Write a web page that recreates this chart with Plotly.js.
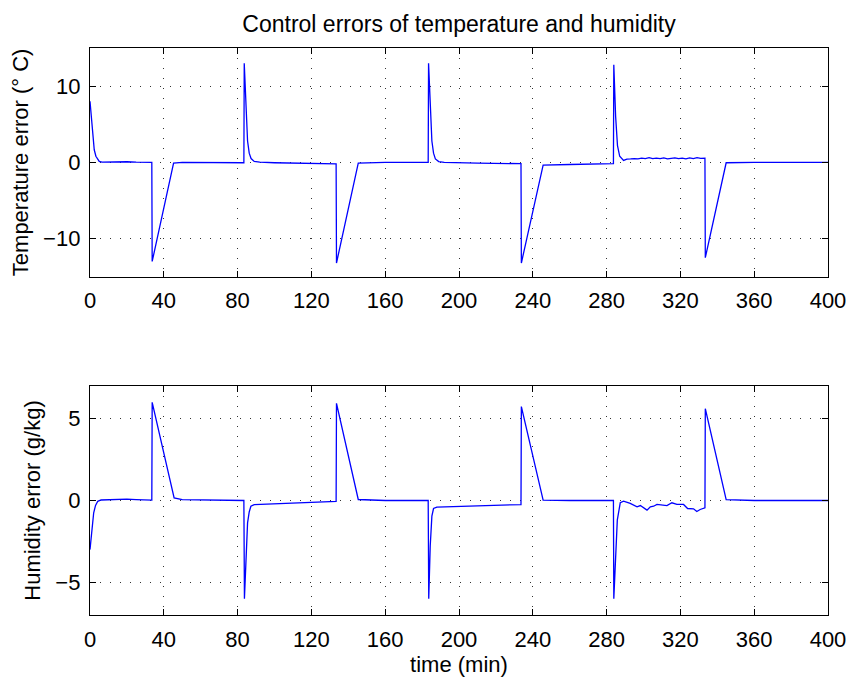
<!DOCTYPE html>
<html>
<head>
<meta charset="utf-8">
<script src="https://cdn.plot.ly/plotly-3.0.1.min.js"></script>
<style>html,body{margin:0;padding:0;background:#fff;}#chart{width:850px;height:677px;}</style>
</head>
<body>
<div id="chart"></div>
<script>
// Temperature control error (°C) vs time (min)
const tempTime = [0, 1.4, 2.3, 3.2, 4.2, 5.0, 6.5, 10, 15, 20, 25, 30, 33.5,
  33.7, 45.3, 50, 60, 70, 83.4,
  83.6, 84.6, 85.4, 86.3, 87.3, 89, 92, 100, 115, 133.4,
  133.6, 145.4, 160, 183.3,
  183.5, 184.5, 185.3, 186.2, 187.2, 189, 192, 210, 233.6,
  233.8, 245.6, 260, 283.7,
  283.9, 284.9, 285.9, 287.1, 289.2, 291, 293, 295, 297, 299, 301, 303, 305, 307, 309, 311, 313, 315, 317, 319, 321, 323, 325, 327, 329, 331, 333.3,
  333.5, 344.8, 360, 380, 400];
const tempErr = [8.0, 4.3, 1.65, 0.8, 0.35, 0.12, 0.03, 0.05, 0.02, 0.08, 0.03, 0.02, 0.0,
  -13.0, -0.1, 0.0, 0.0, -0.02, -0.05,
  13.0, 6.5, 2.8, 1.2, 0.5, 0.12, 0.02, -0.05, -0.1, -0.2,
  -13.2, -0.1, 0.0, 0.0,
  13.0, 6.5, 2.8, 1.2, 0.45, 0.1, 0.0, -0.1, -0.17,
  -13.2, -0.35, -0.28, -0.17,
  12.8, 6.0, 2.2, 0.8, 0.26, 0.42, 0.45, 0.5, 0.45, 0.55, 0.5, 0.62, 0.48, 0.55, 0.5, 0.58, 0.47, 0.55, 0.6, 0.5, 0.55, 0.45, 0.58, 0.5, 0.62, 0.52, 0.55,
  -12.5, -0.05, 0.0, 0.0, 0.0];

// Humidity control error (g/kg) vs time (min)
const humTime = [0, 1, 2, 3, 4.2, 6, 10, 20, 25, 33.5,
  33.7, 45.6, 50, 70, 83.4,
  83.7, 84.5, 85.4, 86.3, 87.2, 89, 100, 115, 133.4,
  133.6, 145.4, 160, 183.3,
  183.6, 184.4, 185.3, 186.2, 188, 200, 215, 233.6,
  233.8, 245.6, 260, 283.7,
  283.9, 285.0, 285.8, 287.4, 289.2, 292.8, 296.5, 298.3, 300.1, 301.9, 303.7, 305.5, 307.3, 310.9, 312.7, 315.4, 318.1, 321.7, 323.9, 327.1, 328.9, 330.7, 333.3,
  333.5, 344.8, 360, 380, 400];
const humErr = [-3.0, -1.6, -0.75, -0.3, -0.05, 0.03, 0.05, 0.08, 0.05, 0.02,
  6.0, 0.16, 0.05, 0.0, 0.0,
  -6.0, -3.2, -1.37, -0.7, -0.35, -0.25, -0.2, -0.15, -0.06,
  5.94, 0.06, 0.0, 0.0,
  -6.0, -2.8, -0.96, -0.49, -0.4, -0.35, -0.3, -0.25,
  5.74, 0.02, 0.0, 0.0,
  -6.0, -3.0, -1.2, -0.14, -0.04, -0.18, -0.39, -0.31, -0.45, -0.59, -0.39, -0.35, -0.24, -0.27, -0.31, -0.14, -0.24, -0.24, -0.49, -0.51, -0.67, -0.55, -0.45,
  5.61, 0.05, 0.0, 0.0, 0.0];

const xTicks = [0, 40, 80, 120, 160, 200, 240, 280, 320, 360, 400];
const tempTicks = [-10, 0, 10];
const humTicks = [-5, 0, 5];

const titleText = 'Control errors of temperature and humidity';
const tempLabel = 'Temperature error (° C)';
const humLabel = 'Humidity error (g/kg)';
const timeLabel = 'time (min)';

const FONT = {family: '"Liberation Sans", Arial, Helvetica, sans-serif', size: 22, color: '#000'};
const TITLEFONT = Object.assign({}, FONT, {size: 23});

const baseAxis = {
  showline: true, linecolor: '#000', linewidth: 1.2, mirror: 'ticks',
  ticks: 'inside', ticklen: 6, tickwidth: 1, tickcolor: '#000',
  showgrid: true, gridcolor: '#333', gridwidth: 1, griddash: '1px,9px',
  zeroline: false, tickfont: FONT
};

const traces = [
  {x: tempTime, y: tempErr, type: 'scatter', mode: 'lines', line: {color: '#0000ff', width: 1.3}, xaxis: 'x', yaxis: 'y', hoverinfo: 'skip'},
  {x: humTime, y: humErr, type: 'scatter', mode: 'lines', line: {color: '#0000ff', width: 1.3}, xaxis: 'x2', yaxis: 'y2', hoverinfo: 'skip'}
];

const layout = {
  width: 850, height: 677,
  margin: {l: 90, r: 22, t: 48, b: 62},
  paper_bgcolor: '#fff', plot_bgcolor: '#fff',
  showlegend: false,
  font: FONT,
  title: {text: titleText, font: TITLEFONT, x: 0.54, xanchor: 'center', y: 0.9653, yanchor: 'middle', yref: 'container'},
  xaxis: Object.assign({}, baseAxis, {domain: [0, 1], range: [0, 400], tickvals: xTicks, ticktext: xTicks.map(String), anchor: 'y', ticklabelstandoff: 4}),
  yaxis: Object.assign({}, baseAxis, {domain: [0.5966, 1], range: [-15, 15], tickvals: tempTicks, anchor: 'x', ticklabelstandoff: 4,
    title: {text: tempLabel, font: FONT, standoff: 8}}),
  xaxis2: Object.assign({}, baseAxis, {domain: [0, 1], range: [0, 400], tickvals: xTicks, ticktext: xTicks.map(String), anchor: 'y2', ticklabelstandoff: 4,
    title: {text: timeLabel, font: FONT, standoff: 6}}),
  yaxis2: Object.assign({}, baseAxis, {domain: [0, 0.4039], range: [-7, 7], tickvals: humTicks, anchor: 'x2', ticklabelstandoff: 4,
    title: {text: humLabel, font: FONT, standoff: 8}})
};

Plotly.newPlot('chart', traces, layout, {staticPlot: true, displayModeBar: false});
</script>
</body>
</html>
